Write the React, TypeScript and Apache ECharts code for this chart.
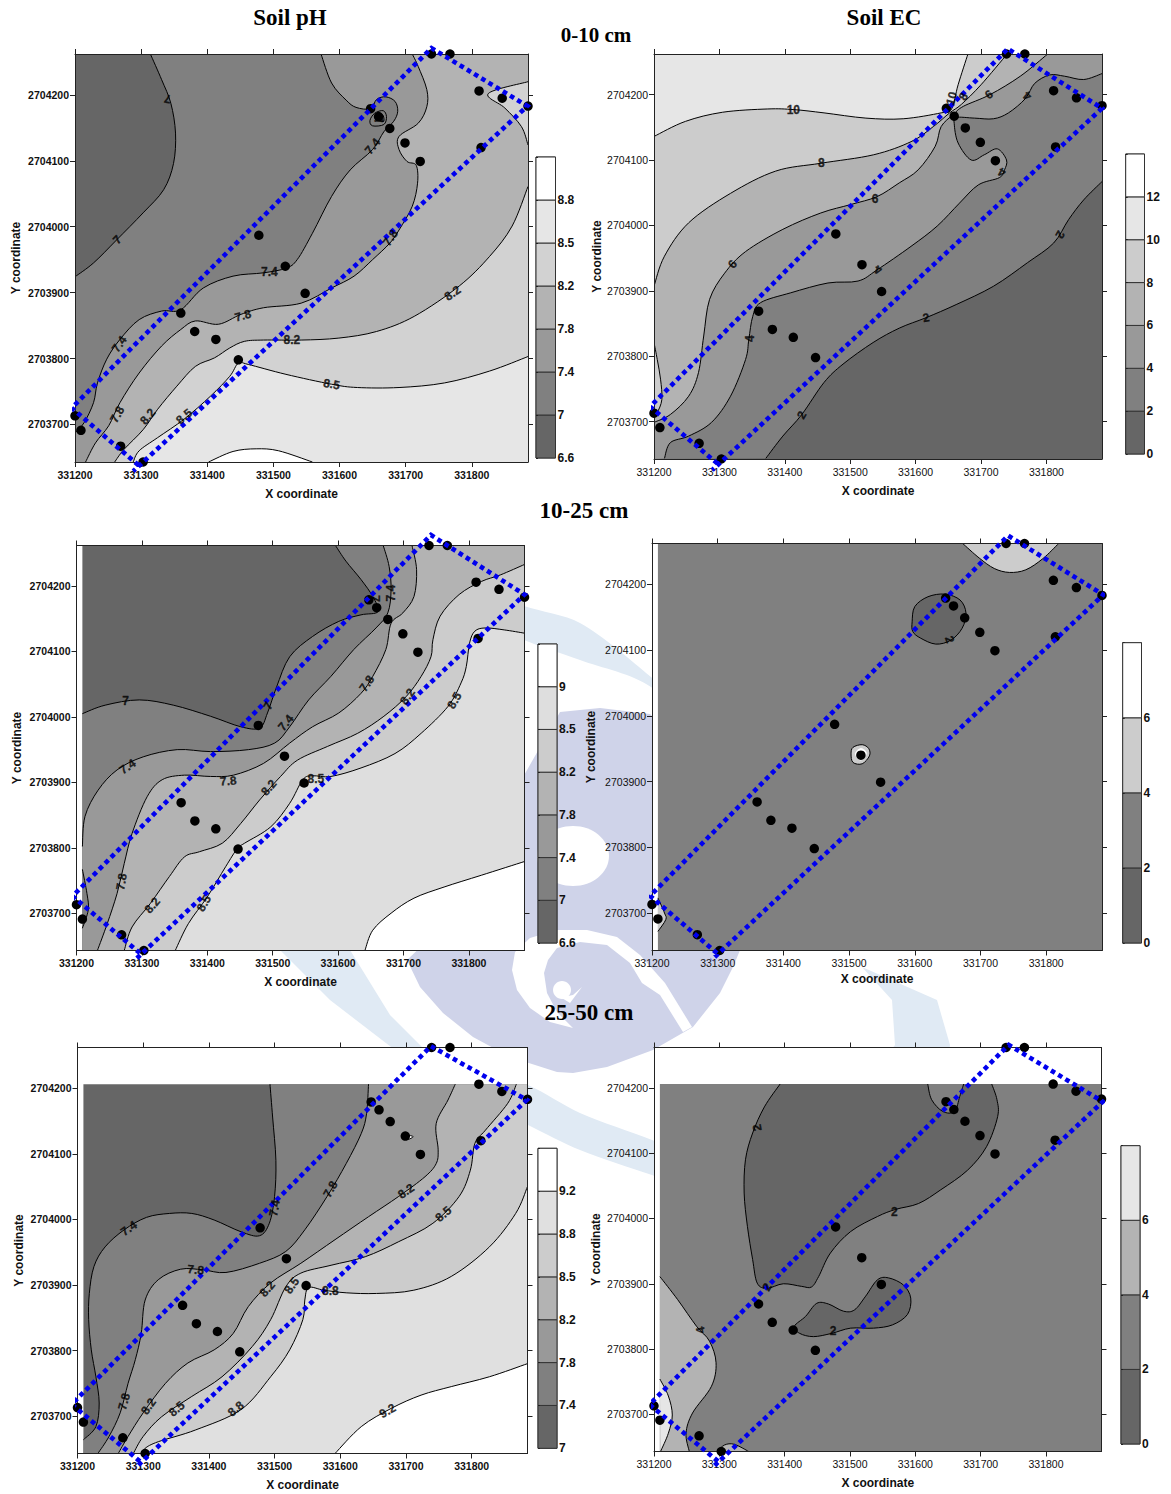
import React, { useEffect, useRef } from "react";
import * as echarts from "echarts";

// All contour data below are offsets in metres from these origins.
const X0 = 331000;
const Y0 = 2703000;
const X_MIN = 331200, X_MAX = 331885, Y_MIN = 2703643, Y_MAX = 2704262;
const xTicks = [331200, 331300, 331400, 331500, 331600, 331700, 331800];
const yTicks = [2703700, 2703800, 2703900, 2704000, 2704100, 2704200];

type P = number[];
const samplePoints: P[] = [[200,713],[209,691],[269,667],[303,643],[360,869],[381,841],[413,829],[447,798],[478,987],[518,940],[548,899],[647,1179],[659,1167],[676,1149],[699,1127],[722,1099],[739,1262],[767,1262],[811,1206],[814,1120],[846,1195],[885,1183]];

// ---------- Soil pH 0-10 cm
const a70: P[] = [[314,1262],[331,1223],[345,1187],[352,1142],[349,1096],[334,1056],[303,1021],[263,980],[228,945],[200,924]];
const a74: P[] = [[572,1262],[588,1218],[610,1192],[625,1181],[647,1179],[656,1193],[670,1197],[684,1190],[688,1175],[682,1160],[667,1144],[650,1117],[616,1086],[588,1046],[559,990],[536,950],[519,937],[485,930],[439,925],[394,907],[360,874],[331,872],[297,859],[268,829],[248,799],[234,763],[228,733],[214,703],[200,687]];
const aIs1: P[] = [[646,1161],[653,1172],[666,1176],[671,1167],[667,1155],[650,1153]];
const aIs2: P[] = [[656,1167],[665,1170],[667,1160],[659,1162]];
const a78: P[] = [[710,1262],[719,1243],[732,1208],[732,1182],[719,1157],[690,1137],[690,1117],[702,1099],[716,1093],[718,1066],[710,1031],[690,995],[676,975],[650,950],[622,925],[588,907],[542,884],[485,877],[451,867],[417,852],[382,857],[360,844],[331,819],[297,778],[268,733],[251,698],[231,672],[216,643]];
const a82: P[] = [[885,1061],[861,1001],[827,955],[781,910],[713,864],[656,841],[599,831],[542,828],[485,828],[456,826],[434,816],[411,801],[382,788],[354,758],[325,723],[303,692],[274,662],[260,643]];
const a82b: P[] = [[885,1220],[825,1202],[850,1180],[875,1152],[885,1124]];
const a85: P[] = [[885,803],[827,781],[759,763],[690,756],[627,756],[588,761],[519,776],[462,791],[447,793],[434,773],[405,743],[365,708],[325,680],[297,660],[288,643]];
const a88: P[] = [[402,643],[439,659],[474,663],[508,660],[559,643]];
const aLabels: any[][] = [[340,1194,"7",170],[264,980,"7",45],[650,1122,"7.4",50],[659,1161,"7",-70],[494,931,"7.4",0],[677,983,"7.8",55],[454,865,"7.8",15],[771,899,"8.2",35],[528,828,"8.2",0],[588,761,"8.5",-10],[267,822,"7.4",55],[264,715,"7.8",60],[310,712,"8.2",50],[365,712,"8.5",40]];
const aBox: P[] = [[296,638],[195,725],[739,1271],[884,1183],[288,629]];
const aLevels = ["6.6","7","7.4","7.8","8.2","8.5","8.8"];
const aColors = ["#666666","#808080","#999999","#b3b3b3","#d2d2d2","#e6e6e6","#ffffff"];

// ---------- Soil EC 0-10 cm
const b2: P[] = [[885,1067],[857,1039],[834,1009],[811,973],[771,943],[719,907],[662,879],[616,859],[575,843],[535,821],[489,788],[460,760],[426,711],[397,678],[371,644]];
const b4: P[] = [[885,1232],[857,1223],[828,1228],[805,1230],[782,1217],[768,1194],[742,1172],[719,1163],[690,1164],[662,1165],[659,1156],[665,1126],[685,1100],[705,1108],[725,1117],[739,1100],[736,1085],[728,1073],[696,1062],[667,1034],[633,999],[593,968],[541,932],[512,915],[466,912],[409,897],[363,882],[351,861],[345,826],[340,795],[317,739],[288,699],[253,678],[225,668],[216,644]];
const b6: P[] = [[802,1262],[760,1228],[714,1200],[673,1182],[657,1169],[639,1151],[630,1121],[604,1085],[575,1065],[541,1044],[501,1032],[455,1019],[397,994],[340,960],[308,927],[285,887],[276,831],[268,775],[253,739],[225,711],[200,699]];
const b8: P[] = [[740,1262],[700,1215],[670,1185],[652,1172],[627,1151],[593,1128],[536,1108],[455,1095],[386,1083],[317,1049],[253,1004],[216,953],[200,907]];
const b10: P[] = [[680,1262],[665,1215],[655,1178],[639,1172],[581,1163],[524,1164],[460,1172],[414,1177],[374,1178],[305,1173],[248,1159],[200,1136]];
const b8b: P[] = [[200,821],[205,795],[210,765],[212,734],[205,714],[200,709]];
const bLabels: any[][] = [[413,1177,"10",0],[456,1095,"8",0],[538,1041,"6",0],[320,941,"6",50],[543,932,"4",160],[616,859,"2",10],[426,710,"2",60],[821,986,"2",-120],[347,827,"4",90],[655,1194,"10",75],[673,1197,"8",60],[712,1200,"6",35],[771,1198,"4",140],[732,1081,"4",150]];
const bBox: P[] = [[297,636],[194,723],[741,1270],[885,1179],[289,626]];
const bLevels = ["0","2","4","6","8","10","12"];
const bColors = ["#666666","#808080","#999999","#b3b3b3","#cccccc","#e6e6e6","#ffffff"];

// ---------- Soil pH 10-25 cm
const c70: P[] = [[209,1005],[244,1018],[296,1026],[348,1018],[405,1001],[451,985],[480,983],[492,1006],[506,1046],[526,1092],[561,1123],[601,1146],[635,1156],[661,1161],[653,1184],[635,1210],[612,1238],[596,1262]];
const c74: P[] = [[669,1262],[678,1230],[681,1194],[676,1159],[658,1136],[624,1103],[589,1062],[555,1026],[526,985],[503,960],[463,950],[405,947],[354,950],[302,939],[262,919],[233,888],[213,848],[209,802]];
const c74b: P[] = [[209,767],[216,730],[218,705],[209,677]];
const c78: P[] = [[713,1262],[720,1225],[716,1184],[699,1159],[681,1143],[673,1103],[653,1062],[635,1036],[601,1006],[561,985],[526,960],[486,929],[440,911],[405,909],[365,911],[331,904],[308,878],[285,822],[273,776],[262,730],[247,684],[232,643]];
const c82: P[] = [[885,1233],[848,1217],[819,1207],[785,1187],[756,1154],[745,1118],[742,1092],[727,1062],[704,1031],[670,1001],[630,975],[584,955],[538,934],[512,909],[480,873],[451,837],[423,807],[388,794],[365,786],[342,756],[313,715],[285,679],[273,643]];
const c85: P[] = [[885,1128],[854,1133],[825,1136],[809,1131],[801,1113],[796,1077],[788,1052],[768,1016],[727,975],[687,944],[635,922],[589,909],[561,910],[546,904],[526,868],[497,832],[457,807],[446,799],[428,771],[400,725],[371,684],[351,643]];
const c90: P[] = [[885,779],[819,758],[762,740],[716,723],[681,700],[653,674],[641,643]];
const cLabels: any[][] = [[275,1024,"7",0],[493,1017,"7",60],[657,1181,"7",-90],[681,1189,"7.4",90],[520,991,"7.4",50],[278,924,"7.4",35],[644,1051,"7.8",55],[432,902,"7.8",5],[269,748,"7.8",80],[706,1031,"8.2",55],[494,892,"8.2",50],[316,712,"8.2",50],[778,1025,"8.5",60],[566,905,"8.5",0],[395,715,"8.5",60]];
const cBox: P[] = [[297,639],[194,726],[742,1278],[885,1187],[290,629]];
const cLevels = ["6.6","7","7.4","7.8","8.2","8.5","9"];
const cColors = ["#666666","#808080","#999999","#b3b3b3","#cccccc","#dedede","#ffffff"];

// ---------- Soil EC 10-25 cm
const d4a: P[] = [[673,1262],[698,1240],[721,1224],[744,1218],[769,1222],[795,1239],[819,1262]];
const d2: P[] = [[596,1143],[600,1166],[620,1181],[646,1185],[669,1176],[678,1156],[672,1133],[655,1115],[632,1109],[609,1118],[597,1128]];
const d4b: P[] = [[503,942],[506,952],[520,956],[530,950],[531,939],[520,927],[506,929]];
const d6: P[] = [[509,942],[518,951],[527,943],[518,932]];
const d4c: P[] = [[209,723],[219,700],[221,690],[209,672]];
const dLabels: any[][] = [[653,1116,"2",-70]];
const dBox: P[] = [[299,639],[197,726],[742,1274],[887,1184],[291,629]];
const dLevels = ["0","2","4","6"];
const dColors = ["#666666","#808080","#cccccc","#ffffff"];

// ---------- Soil pH 25-50 cm
const e74: P[] = [[493,1206],[497,1156],[502,1090],[500,1035],[492,994],[477,975],[449,981],[408,999],[374,1009],[340,1009],[305,1003],[271,984],[242,958],[225,928],[218,887],[217,847],[221,801],[228,760],[233,720],[228,684],[209,664]];
const e78: P[] = [[643,1206],[640,1161],[632,1131],[609,1085],[580,1035],[546,984],[517,951],[477,933],[426,919],[391,923],[357,924],[323,908],[303,877],[297,826],[288,786],[277,750],[265,705],[248,669],[231,643]];
const e82: P[] = [[775,1206],[764,1182],[746,1146],[749,1106],[746,1085],[729,1065],[689,1035],[643,1004],[592,969],[540,933],[494,903],[460,867],[437,826],[408,801],[368,781],[334,750],[300,705],[277,669],[262,643]];
const e85: P[] = [[868,1206],[855,1177],[821,1136],[805,1116],[798,1075],[781,1035],[741,994],[689,966],[638,943],[586,930],[540,918],[517,897],[494,847],[466,806],[420,760],[374,730],[328,699],[300,669],[285,643]];
const e88: P[] = [[885,1050],[867,1009],[827,958],[769,913],[712,892],[655,887],[609,888],[575,892],[552,896],[546,877],[543,847],[523,801],[494,760],[449,710],[380,679],[323,661],[303,651],[299,643]];
const e92: P[] = [[885,780],[827,760],[769,745],[723,732],[678,712],[632,684],[592,643]];
const eTiny: P[] = [[702,1128],[711,1126],[703,1122]];
const eLabels: any[][] = [[278,986,"7.4",35],[500,1017,"7.4",80],[380,923,"7.8",-5],[585,1046,"7.8",60],[271,722,"7.8",75],[700,1043,"8.2",35],[489,894,"8.2",50],[308,715,"8.2",55],[757,1008,"8.5",40],[526,899,"8.5",55],[351,711,"8.5",40],[585,891,"8.8",0],[441,711,"8.8",40],[672,708,"9.2",30]];
const eBox: P[] = [[295,631],[191,718],[738,1264],[884,1182],[288,621]];
const eLevels = ["7","7.4","7.8","8.2","8.5","8.8","9.2"];
const eColors = ["#666666","#808080","#999999","#b3b3b3","#cccccc","#e0e0e0","#ffffff"];

// ---------- Soil EC 25-50 cm
const f2a: P[] = [[393,1206],[369,1171],[351,1131],[340,1090],[338,1039],[343,988],[351,937],[358,901],[373,893],[398,900],[426,896],[441,895],[452,911],[470,947],[501,980],[542,1003],[570,1014],[605,1023],[639,1044],[680,1074],[709,1110],[726,1156],[725,1182],[717,1206]];
const f2n: P[] = [[619,1206],[625,1182],[642,1164],[660,1164],[668,1187],[674,1206]];
const f2b: P[] = [[415,835],[432,850],[449,870],[467,869],[490,858],[507,860],[524,881],[542,906],[559,909],[582,898],[593,878],[588,853],[565,837],[536,832],[501,832],[472,824],[444,819],[423,824]];
const f4a: P[] = [[209,911],[236,876],[265,835],[285,812],[295,779],[288,743],[259,702],[249,671],[254,643]];
const f4b: P[] = [[297,643],[308,653],[323,654],[345,643]];
const f6: P[] = [[209,754],[222,728],[228,699],[222,671],[210,643]];
const fLabels: any[][] = [[358,1139,"2",100],[568,1010,"2",0],[373,895,"2",60],[474,827,"2",0],[271,829,"4",100]];
const fBox: P[] = [[298,628],[193,715],[743,1266],[887,1179],[289,618]];
const fLevels = ["0","2","4","6"];
const fColors = ["#666666","#808080","#b3b3b3","#e6e6e6"];

type Region = { line?: P[]; close?: P[]; fill?: string; closed?: boolean; noStroke?: boolean };

const aRegions: Region[] = [
  { close: [[200,643],[885,643],[885,1262],[200,1262]], fill: aColors[0] },
  { line: a70, close: [[200,643],[885,643],[885,1262]], fill: aColors[1] },
  { line: a74, close: [[200,643],[885,643],[885,1262]], fill: aColors[2] },
  { line: aIs1, closed: true, fill: aColors[1] },
  { line: aIs2, closed: true, fill: aColors[0] },
  { line: a78, close: [[885,643],[885,1262]], fill: aColors[3] },
  { line: a82, close: [[885,643]], fill: aColors[4] },
  { line: a82b, fill: aColors[4] },
  { line: a85, close: [[885,643]], fill: aColors[5] },
  { line: a88, fill: aColors[6] },
];
const bRegions: Region[] = [
  { close: [[200,643],[885,643],[885,1262],[200,1262]], fill: bColors[0] },
  { line: b2, close: [[200,643],[200,1262],[885,1262]], fill: bColors[1] },
  { line: b4, close: [[200,643],[200,1262],[885,1262]], fill: bColors[2] },
  { line: b6, close: [[200,1262]], fill: bColors[3] },
  { line: b8, close: [[200,1262]], fill: bColors[4] },
  { line: b10, close: [[200,1262]], fill: bColors[5] },
  { line: b8b, fill: bColors[4] },
];
const cRegions: Region[] = [
  { close: [[209,643],[885,643],[885,1262],[209,1262]], fill: cColors[0] },
  { line: c70, close: [[885,1262],[885,643],[209,643]], fill: cColors[1] },
  { line: c74, close: [[209,643],[885,643],[885,1262]], fill: cColors[2] },
  { line: c74b, fill: cColors[1] },
  { line: c78, close: [[885,643],[885,1262]], fill: cColors[3] },
  { line: c82, close: [[885,643]], fill: cColors[4] },
  { line: c85, close: [[885,643]], fill: cColors[5] },
  { line: c90, close: [[885,643]], fill: cColors[6] },
];
const dRegions: Region[] = [
  { close: [[209,643],[885,643],[885,1262],[209,1262]], fill: dColors[1] },
  { line: d4a, fill: dColors[2] },
  { line: d2, closed: true, fill: dColors[0] },
  { line: d4b, closed: true, fill: dColors[2] },
  { line: d6, closed: true, fill: dColors[3], noStroke: true },
  { line: d4c, fill: dColors[2] },
];
const eRegions: Region[] = [
  { close: [[209,643],[885,643],[885,1206],[209,1206]], fill: eColors[0] },
  { line: e74, close: [[209,643],[885,643],[885,1206]], fill: eColors[1] },
  { line: e78, close: [[885,643],[885,1206]], fill: eColors[2] },
  { line: e82, close: [[885,643],[885,1206]], fill: eColors[3] },
  { line: eTiny, closed: true, fill: eColors[6] },
  { line: e85, close: [[885,643],[885,1206]], fill: eColors[4] },
  { line: e88, close: [[885,643]], fill: eColors[5] },
  { line: e92, close: [[885,643]], fill: eColors[6] },
];
const fRegions: Region[] = [
  { close: [[209,643],[885,643],[885,1206],[209,1206]], fill: fColors[1] },
  { line: f2a, fill: fColors[0] },
  { line: f2n, fill: fColors[1] },
  { line: f2b, closed: true, fill: fColors[0] },
  { line: f4a, close: [[209,643]], fill: fColors[2] },
  { line: f4b, fill: fColors[2] },
  { line: f6, fill: fColors[3] },
];

const panels = [
  { l: 75, r: 528, t: 54, b: 462, gx: 26, gy: 53, bold: true, regions: aRegions, labels: aLabels, box: aBox, levels: aLevels, colors: aColors, bar: [536, 555.5, 157, 458] },
  { l: 654, r: 1102, t: 54, b: 459, gx: 26, gy: 51, bold: false, regions: bRegions, labels: bLabels, box: bBox, levels: bLevels, colors: bColors, bar: [1125.7, 1144.5, 154, 454] },
  { l: 76.5, r: 524.5, t: 545.5, b: 950.5, gx: 25.5, gy: 54, bold: true, regions: cRegions, labels: cLabels, box: cBox, levels: cLevels, colors: cColors, bar: [538, 557, 644, 943] },
  { l: 652, r: 1102, t: 543.5, b: 950.5, gx: 22.5, gy: 55, bold: false, regions: dRegions, labels: dLabels, box: dBox, levels: dLevels, colors: dColors, bar: [1122.7, 1141.5, 642.7, 943] },
  { l: 77.5, r: 527.5, t: 1047.5, b: 1453.5, gx: 25.5, gy: 53, bold: true, regions: eRegions, labels: eLabels, box: eBox, levels: eLevels, colors: eColors, bar: [538, 557, 1148.3, 1448.3] },
  { l: 654, r: 1101.5, t: 1047.5, b: 1451.5, gx: 25, gy: 52, bold: false, regions: fRegions, labels: fLabels, box: fBox, levels: fLevels, colors: fColors, bar: [1121, 1140, 1145.7, 1444] },
];

const titles: [string, number, number, number][] = [
  ["Soil pH", 290, 17, 23], ["Soil EC", 884, 17, 23], ["0-10 cm", 596, 35, 21], ["10-25 cm", 584, 510, 23], ["25-50 cm", 589, 1012, 23],
];

const FONT = "'Liberation Sans', Arial, sans-serif";
const BLUE_WM = "#e0eaf4";
const LAV_WM = "#cfd3e9";

function smoothPath(pts: number[][], closed: boolean, move: boolean): string {
  const n = pts.length;
  let d = move ? `M${pts[0][0]} ${pts[0][1]}` : `L${pts[0][0]} ${pts[0][1]}`;
  const at = (i: number) => (closed ? pts[(i + n) % n] : pts[Math.max(0, Math.min(n - 1, i))]);
  const last = closed ? n : n - 1;
  for (let i = 0; i < last; i++) {
    const p0 = at(i - 1), p1 = at(i), p2 = at(i + 1), p3 = at(i + 2);
    const c1x = p1[0] + (p2[0] - p0[0]) / 6, c1y = p1[1] + (p2[1] - p0[1]) / 6;
    const c2x = p2[0] - (p3[0] - p1[0]) / 6, c2y = p2[1] - (p3[1] - p1[1]) / 6;
    d += `C${c1x} ${c1y} ${c2x} ${c2y} ${p2[0]} ${p2[1]}`;
  }
  return d;
}

function buildOption() {
  const grid: any[] = [];
  const xAxis: any[] = [];
  const yAxis: any[] = [];
  const series: any[] = [];

  panels.forEach((p) => {
    const g = grid.length;
    grid.push({ left: p.l, top: p.t, width: p.r - p.l, height: p.b - p.t, show: true, backgroundColor: "#fff", borderWidth: 0, containLabel: false });
    const weight = p.bold ? "bold" : "normal";
    const line = { show: true, onZero: false, lineStyle: { color: "#222", width: 1 } };
    const tick = (vals: number[]) => ({ show: true, length: 5, inside: false, customValues: vals, lineStyle: { color: "#222", width: 1 } });
    const base = { gridIndex: g, type: "value", splitLine: { show: false }, z: 4 };
    xAxis.push({
      ...base, min: X_MIN, max: X_MAX, position: "bottom", axisLine: line, axisTick: tick(xTicks),
      axisLabel: { customValues: xTicks, margin: 7, color: "#111", fontFamily: FONT, fontSize: 10.5, fontWeight: weight, formatter: (v: number) => String(v) },
      name: "X coordinate", nameLocation: "middle", nameGap: p.gx, nameTextStyle: { fontFamily: FONT, fontSize: 12, fontWeight: "bold", color: "#111" },
    });
    xAxis.push({ ...base, min: X_MIN, max: X_MAX, position: "top", axisLine: line, axisTick: tick(xTicks), axisLabel: { show: false } });
    yAxis.push({
      ...base, min: Y_MIN, max: Y_MAX, position: "left", axisLine: line, axisTick: tick(yTicks),
      axisLabel: { customValues: yTicks, margin: 6, color: "#111", fontFamily: FONT, fontSize: 10.5, fontWeight: weight, formatter: (v: number) => String(v) },
      name: "Y coordinate", nameLocation: "middle", nameGap: p.gy, nameTextStyle: { fontFamily: FONT, fontSize: 12, fontWeight: "bold", color: "#111" },
    });
    yAxis.push({ ...base, min: Y_MIN, max: Y_MAX, position: "right", axisLine: line, axisTick: tick(yTicks), axisLabel: { show: false } });
    const xi = xAxis.length - 2, yi = yAxis.length - 2;
    const toPx = (api: any, pts: P[]) => pts.map((q) => api.coord([q[0] + X0, q[1] + Y0]));
    const regions: Region[] = p.regions;

    series.push({
      type: "custom", xAxisIndex: xi, yAxisIndex: yi, z: 2, clip: true, silent: true,
      data: regions.map((_, i) => [X_MIN, Y_MIN, i]),
      renderItem: (params: any, api: any) => {
        const r = regions[params.dataIndex];
        let d = "";
        if (r.line) d += smoothPath(toPx(api, r.line), !!r.closed, true);
        (r.close ? toPx(api, r.close) : []).forEach((q, i) => {
          d += (i === 0 && !r.line ? "M" : "L") + `${q[0]} ${q[1]}`;
        });
        d += "Z";
        return { type: "path", shape: { pathData: d }, style: { fill: r.fill, stroke: "none" } };
      },
    });
    const stroked = regions.filter((r) => r.line && !r.noStroke);
    series.push({
      type: "custom", xAxisIndex: xi, yAxisIndex: yi, z: 3, clip: true, silent: true,
      data: stroked.map((_, i) => [X_MIN, Y_MIN, i]),
      renderItem: (params: any, api: any) => {
        const r = stroked[params.dataIndex];
        const d = smoothPath(toPx(api, r.line as P[]), !!r.closed, true) + (r.closed ? "Z" : "");
        return { type: "path", shape: { pathData: d }, style: { fill: "none", stroke: "#000", lineWidth: 1 } };
      },
    });
    series.push({
      type: "scatter", xAxisIndex: xi, yAxisIndex: yi, z: 5, clip: false, silent: true, symbolSize: 9.5,
      itemStyle: { color: "#000", opacity: 1 },
      data: samplePoints.map((q) => [q[0] + X0, q[1] + Y0]),
    });
    series.push({
      type: "line", xAxisIndex: xi, yAxisIndex: yi, z: 6, clip: false, silent: true, showSymbol: false, symbol: "none",
      lineStyle: { color: "#0000ee", width: 4.6, type: [4.6, 3.8], cap: "butt", join: "miter" },
      data: p.box.map((q: P) => [q[0] + X0, q[1] + Y0]),
    });
    series.push({
      type: "scatter", xAxisIndex: xi, yAxisIndex: yi, z: 7, clip: false, silent: true, symbolSize: 1,
      itemStyle: { color: "transparent" },
      data: p.labels.map((q: any[]) => ({
        value: [q[0] + X0, q[1] + Y0],
        label: { show: true, position: "inside", formatter: String(q[2]), rotate: q[3], fontFamily: FONT, fontSize: 12, fontWeight: "bold", color: "#000", textBorderColor: "#000", textBorderWidth: 0.3 },
      })),
    });

    // colour scale
    const [bl, br, bt, bb] = p.bar;
    const cg = grid.length;
    const n = p.colors.length;
    grid.push({ left: bl, top: bt, width: br - bl, height: bb - bt, show: true, backgroundColor: "#fff", borderColor: "#444", borderWidth: 1 });
    xAxis.push({ gridIndex: cg, type: "value", min: 0, max: 1, show: false });
    yAxis.push({
      gridIndex: cg, type: "value", min: 0, max: n, interval: 1, position: "right", z: 4, splitLine: { show: false },
      axisLine: { show: false }, axisTick: { show: true, length: 2, lineStyle: { color: "#222" } },
      axisLabel: { margin: 2, color: "#111", fontFamily: FONT, fontSize: 12, fontWeight: "bold", formatter: (v: number) => p.levels[v] ?? "" },
    });
    series.push({
      type: "custom", xAxisIndex: xAxis.length - 1, yAxisIndex: yAxis.length - 1, z: 2, silent: true,
      data: p.colors.map((_: string, i: number) => [0, i]),
      renderItem: (params: any, api: any) => {
        const i = params.dataIndex;
        const a = api.coord([0, i]);
        const b = api.coord([1, i + 1]);
        return { type: "rect", shape: { x: a[0], y: b[1], width: b[0] - a[0], height: a[1] - b[1] }, style: { fill: p.colors[i], stroke: "#333", lineWidth: 1 } };
      },
    });
  });

  const poly = (points: number[][], fill: string, smooth = 0, z = -10) => ({ type: "polygon", silent: true, z, shape: { points, smooth }, style: { fill } });

  return {
    animation: false,
    backgroundColor: "transparent",
    title: titles.map(([text, x, y, size]) => ({
      text, left: x, top: y - size / 2, textAlign: "center",
      textStyle: { fontFamily: "'Liberation Serif', 'Times New Roman', serif", fontWeight: "bold", fontSize: size, color: "#000" }, padding: 0,
    })),
    graphic: {
      z: -10,
      elements: [
        poly([[440,575],[524,606],[580,623],[651,677],[720,740],[720,760],[651,687],[580,660],[524,640],[440,600]], BLUE_WM, 0.3),
        poly([[528,1085],[580,1113],[652,1140],[700,1160],[700,1190],[652,1175],[580,1150],[528,1125],[480,1100],[480,1070]], BLUE_WM, 0.3),
        poly([[280,950],[350,950],[390,1015],[425,1050],[395,1050],[330,1000]], BLUE_WM),
        poly([[862,967],[937,1000],[950,1045],[945,1084],[866,1084],[895,1045],[892,1000]], BLUE_WM),
        poly([[407,960],[420,987],[443,1013],[473,1037],[510,1057],[557,1072],[573,1073],[607,1067],[653,1050],[693,1027],[720,993],[733,967],[743,943],[735,800],[650,714],[600,708],[560,712],[510,800],[470,900]], LAV_WM),
        { type: "ellipse", silent: true, z: -9, shape: { cx: 573, cy: 856, rx: 36, ry: 30 }, style: { fill: "#fff" } },
        poly([[692,1027],[665,983],[640,955],[617,937],[587,930],[557,930],[530,938],[515,952],[512,970],[517,990],[530,1008],[550,1022],[573,1028],[557,1012],[547,993],[544,973],[548,960],[557,948],[580,942],[607,945],[630,963],[642,983],[660,995],[683,1032]], "#ffffff", 0, -9),
        { type: "ellipse", silent: true, z: -9, shape: { cx: 562, cy: 990, rx: 9, ry: 9 }, style: { fill: "#fff" } },
        poly([[557,995],[570,1003],[582,987],[573,995],[563,997]], "#ffffff", 0, -9),
      ],
    },
    grid, xAxis, yAxis, series,
  };
}

export default function App() {
  const ref = useRef<HTMLDivElement>(null);
  useEffect(() => {
    if (!ref.current) return;
    const chart = echarts.init(ref.current, undefined, { renderer: "svg" });
    chart.setOption(buildOption() as any);
    return () => chart.dispose();
  }, []);
  return <div ref={ref} style={{ position: "absolute", left: 0, top: 0, width: 1171, height: 1494 }} />;
}
